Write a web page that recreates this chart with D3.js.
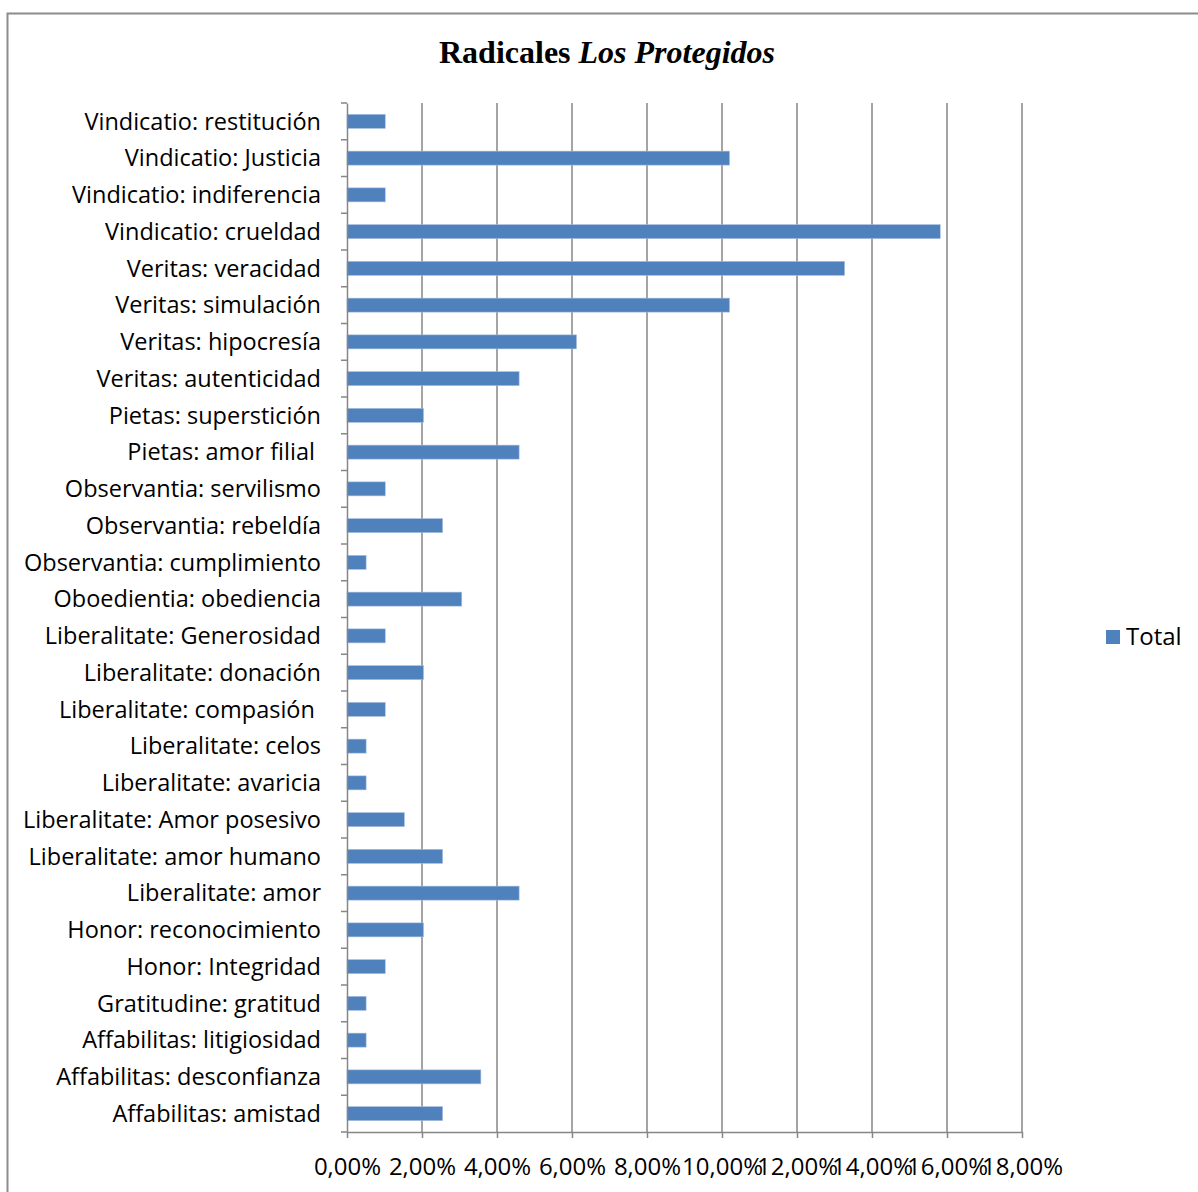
<!DOCTYPE html>
<html><head><meta charset="utf-8">
<script src="https://cdn.jsdelivr.net/npm/d3@7"></script>
<style>body{margin:0;background:#fff}svg{display:block}text{font-variant-ligatures:none}</style>
</head><body>
<svg id="c" width="1198" height="1192"></svg>
<script>
// categories top to bottom as shown
const categories = [
  "Vindicatio: restitución","Vindicatio: Justicia","Vindicatio: indiferencia","Vindicatio: crueldad",
  "Veritas: veracidad","Veritas: simulación","Veritas: hipocresía","Veritas: autenticidad",
  "Pietas: superstición","Pietas: amor filial ","Observantia: servilismo","Observantia: rebeldía",
  "Observantia: cumplimiento","Oboedientia: obediencia","Liberalitate: Generosidad","Liberalitate: donación",
  "Liberalitate: compasión ","Liberalitate: celos","Liberalitate: avaricia","Liberalitate: Amor posesivo",
  "Liberalitate: amor humano","Liberalitate: amor","Honor: reconocimiento","Honor: Integridad",
  "Gratitudine: gratitud","Affabilitas: litigiosidad","Affabilitas: desconfianza","Affabilitas: amistad"
];
// share (%) of "Total"
const totalValues = [
  1.02, 10.20, 1.02, 15.82,
  13.27, 10.20, 6.12, 4.59,
  2.04, 4.59, 1.02, 2.55,
  0.51, 3.06, 1.02, 2.04,
  1.02, 0.51, 0.51, 1.53,
  2.55, 4.59, 2.04, 1.02,
  0.51, 0.51, 3.57, 2.55
];
const xTickValues = [0,2,4,6,8,10,12,14,16,18];
const xTickLabels = ["0,00%","2,00%","4,00%","6,00%","8,00%","10,00%","12,00%","14,00%","16,00%","18,00%"];
const seriesName = "Total";
const titleMain = "Radicales ";
const titleItalic = "Los Protegidos";

const svg = d3.select("#c");
const grid = "#868686";
const barColor = "#4f81bd";
const labelFont = "'Open Sans', sans-serif";
const fsY = 23.5, fsX = 24, fsL = 24;

// frame
svg.append("rect").attr("x",7.5).attr("y",13.5).attr("width",1200).attr("height",1200)
  .attr("fill","none").attr("stroke","#8c8c8c").attr("stroke-width",2);

const x = d3.scaleLinear().domain([0,18]).range([347,1022]);
const yb = d3.scaleBand().domain(categories).range([103,1132]);

// gridlines
svg.append("g").selectAll("line").data(xTickValues.slice(1)).join("line")
  .attr("x1",d=>x(d)).attr("x2",d=>x(d)).attr("y1",103).attr("y2",1132)
  .attr("stroke",grid).attr("stroke-width",1.5);

// bars
svg.append("g").selectAll("rect").data(categories).join("rect")
  .attr("x",x(0)).attr("y",(d)=>yb(d)+yb.bandwidth()/2-7)
  .attr("width",(d,i)=>x(totalValues[i])-x(0)).attr("height",14)
  .attr("fill",barColor).attr("stroke","#a7bfde").attr("stroke-width",0.6);

// x axis
const xAxis = d3.axisBottom(x).tickValues(xTickValues).tickFormat((d,i)=>xTickLabels[i]).tickSize(6).tickSizeOuter(0);
const gx = svg.append("g").attr("transform","translate(0,1132)").call(xAxis);
gx.select(".domain").attr("stroke",grid).attr("stroke-width",1.5);
gx.selectAll(".tick line").attr("stroke",grid).attr("stroke-width",1.5);
gx.selectAll(".tick text").attr("font-family",labelFont).attr("font-size",fsX).attr("fill","#000")
  .attr("y",null).attr("dy",null).attr("transform","translate(0,43)");

// y axis
const yAxis = d3.axisLeft(yb).tickSize(0).tickSizeOuter(0);
const gy = svg.append("g").attr("transform","translate(347,0)").call(yAxis);
gy.select(".domain").attr("stroke",grid).attr("stroke-width",1.5);
gy.selectAll(".tick text").attr("font-family",labelFont).attr("font-size",fsY).attr("fill","#000")
  .attr("x",-26).attr("dy","0.35em").style("white-space","pre");
// category boundary ticks
svg.append("g").selectAll("line").data(d3.range(categories.length+1)).join("line")
  .attr("x1",341).attr("x2",347).attr("y1",i=>103+i*yb.step()).attr("y2",i=>103+i*yb.step())
  .attr("stroke",grid).attr("stroke-width",1.5);

// title
const t = svg.append("text").attr("x",607).attr("y",63).attr("text-anchor","middle")
  .attr("font-family","'Liberation Serif', 'Times New Roman', serif").attr("font-weight","bold").attr("font-size",32);
t.append("tspan").text(titleMain);
t.append("tspan").attr("font-style","italic").text(titleItalic);

// legend
svg.append("rect").attr("x",1106).attr("y",630).attr("width",14).attr("height",14).attr("fill",barColor);
svg.append("text").attr("x",1126).attr("y",645).attr("font-family",labelFont).attr("font-size",fsL).text(seriesName);
</script>
</body></html>
